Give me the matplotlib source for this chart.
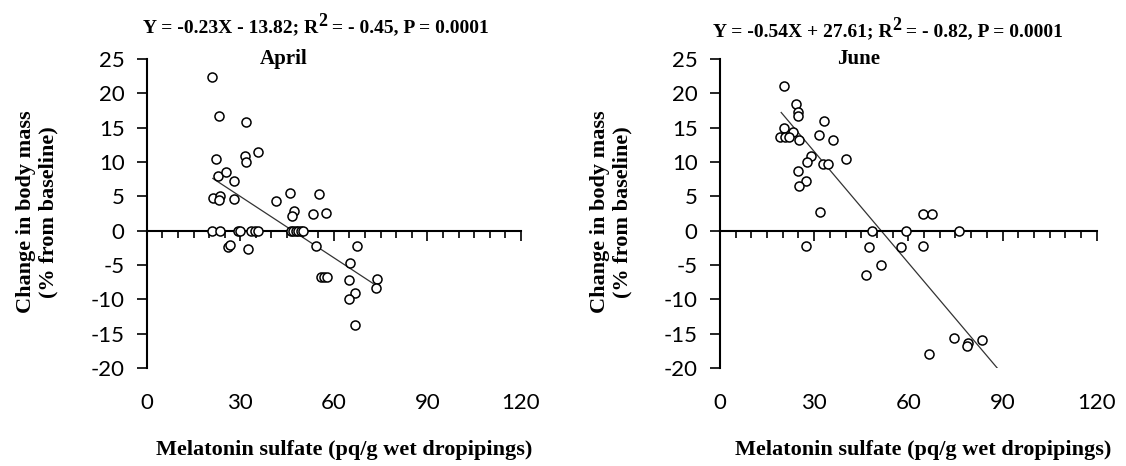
import matplotlib
matplotlib.use("Agg")
import matplotlib.pyplot as plt
from matplotlib.ticker import MultipleLocator, FixedLocator

plt.rcParams['axes.unicode_minus'] = False

# april data (melatonin sulfate, % change in body mass)
april_x = [20.8, 23.1, 31.8, 22.3, 31.4, 31.8, 35.7, 22.9, 25.5, 28.0,
           21.3, 23.6, 23.3, 28.0, 41.5, 46.0, 47.2, 46.7, 53.2, 55.2, 57.5,
           20.8, 23.5, 29.2, 29.9, 33.4, 34.7, 35.7, 46.2, 47.0, 47.9, 48.6, 49.4, 50.0,
           26.2, 26.7, 32.6, 54.3, 67.3, 65.2, 55.8, 56.9, 57.7, 64.9, 73.9,
           73.4, 66.9, 64.8, 66.8]
april_y = [22.3, 16.7, 15.8, 10.5, 10.9, 10.0, 11.4, 7.9, 8.6, 7.2,
           4.8, 5.0, 4.5, 4.6, 4.3, 5.5, 2.8, 2.1, 2.4, 5.4, 2.6,
           0, 0, 0, 0, 0, 0, 0, 0, 0, 0, 0, 0, 0,
           -2.4, -2.1, -2.7, -2.3, -2.2, -4.7, -6.7, -6.7, -6.7, -7.2, -7.0,
           -8.3, -9.1, -10.0, -13.7]
april_fit_x = [21.2, 72.6]
april_fit_y = [7.6, -7.7]

# june data
june_x = [20.4, 24.2, 24.7, 24.8, 33.1, 20.4, 23.2, 19.1, 20.8, 22.1,
          31.7, 36.1, 25.3, 29.0, 27.8, 40.2, 32.8, 34.5, 24.7, 27.4,
          25.2, 31.9, 64.8, 67.6, 48.5, 59.4, 76.2,
          27.4, 47.6, 57.6, 64.8, 51.3, 46.4, 66.5,
          74.5, 78.9, 78.8, 83.5]
june_y = [21.1, 18.4, 17.2, 16.7, 16.0, 15.0, 14.4, 13.6, 13.6, 13.6,
          13.9, 13.2, 13.2, 10.8, 10.0, 10.5, 9.75, 9.75, 8.7, 7.2,
          6.5, 2.7, 2.4, 2.4, 0, 0, 0,
          -2.2, -2.4, -2.4, -2.3, -5.0, -6.5, -17.9,
          -15.6, -16.3, -16.8, -15.9]
june_fit_x = [19.5, 88.3]
june_fit_y = [17.2, -20.0]

x_ticks = [0, 30, 60, 90, 120]
y_ticks = [-20, -15, -10, -5, 0, 5, 10, 15, 20, 25]

# equation text is split so the R-squared "2" can be drawn big and raised
panels = [
    (april_x, april_y, april_fit_x, april_fit_y, "April",
     ("Y = -0.23X - 13.82; R", "2", " = - 0.45, P = 0.0001")),
    (june_x, june_y, june_fit_x, june_fit_y, "June",
     ("Y = -0.54X + 27.61; R", "2", " = - 0.82, P = 0.0001")),
]

serif = "Liberation Serif"
sans = "Lato"

fig = plt.figure(figsize=(11.26, 4.66), dpi=100)
boxes = [[0.1303, 0.2103, 0.3324, 0.6633], [0.6394, 0.2103, 0.3346, 0.6633]]
title_left = [(0.127, 0.931), (0.633, 0.922)]
ylab_x = [0.033, 0.543]
xlab_x = [0.306, 0.820]

for i, (xs, ys, fx, fy, month, eq) in enumerate(panels):
    ax = fig.add_axes(boxes[i])
    ax.plot(xs, ys, 'o', mfc='white', mec='black', ms=6.5, mew=1.1, clip_on=False, zorder=3)
    ax.plot(fx, fy, color='#333333', lw=0.9, zorder=2)
    ax.set_xlim(0, 120)
    ax.set_ylim(-20, 25)

    ax.spines['top'].set_visible(False)
    ax.spines['right'].set_visible(False)
    ax.spines['bottom'].set_position(('data', 0))
    ax.spines['bottom'].set_linewidth(1.5)
    ax.spines['left'].set_linewidth(1.5)

    ax.xaxis.set_major_locator(FixedLocator(x_ticks))
    ax.xaxis.set_minor_locator(MultipleLocator(5))
    ax.tick_params(axis='x', which='major', direction='out', length=7, width=1.2, labelbottom=False)
    ax.tick_params(axis='x', which='minor', direction='out', length=5, width=1.2)
    ax.set_yticks(y_ticks)
    ax.set_yticklabels([str(v) for v in y_ticks], fontfamily=sans)
    ax.tick_params(axis='y', direction='out', length=7, width=1.2, pad=9, labelsize=16)

    # tick labels for x sit below the plot area
    sec = ax.secondary_xaxis('bottom')
    sec.spines['bottom'].set_visible(False)
    sec.set_xticks(x_ticks)
    sec.set_xticklabels([str(v) for v in x_ticks], fontfamily=sans)
    sec.tick_params(axis='x', length=0, pad=18, labelsize=16)

    ax.text(44, 25, month, ha='center', va='center', fontsize=15,
            fontweight='bold', family=serif)

    t1 = fig.text(title_left[i][0], title_left[i][1], eq[0], ha='left', va='baseline',
                  fontsize=14, fontweight='bold', family=serif)
    t2 = fig.text(title_left[i][0], title_left[i][1], eq[1], ha='left', va='baseline',
                  fontsize=13, fontweight='bold', family=serif)
    fig.canvas.draw()
    bb = t1.get_window_extent()
    w, h = fig.get_size_inches() * fig.dpi
    t2.set_position((bb.x1 / w, title_left[i][1] + 6 / h))
    fig.canvas.draw()
    bb2 = t2.get_window_extent()
    fig.text(bb2.x1 / w, title_left[i][1], eq[2], ha='left', va='baseline',
             fontsize=14, fontweight='bold', family=serif)

    fig.text(ylab_x[i], 0.545, "Change in body mass\n(% from baseline)", rotation=90,
             ha='center', va='center', fontsize=16, fontweight='bold', family=serif,
             linespacing=1.15)
    fig.text(xlab_x[i], 0.035, "Melatonin sulfate (pq/g wet dropipings)", ha='center',
             va='center', fontsize=16, fontweight='bold', family=serif)

fig.savefig("out.png", dpi=100)
